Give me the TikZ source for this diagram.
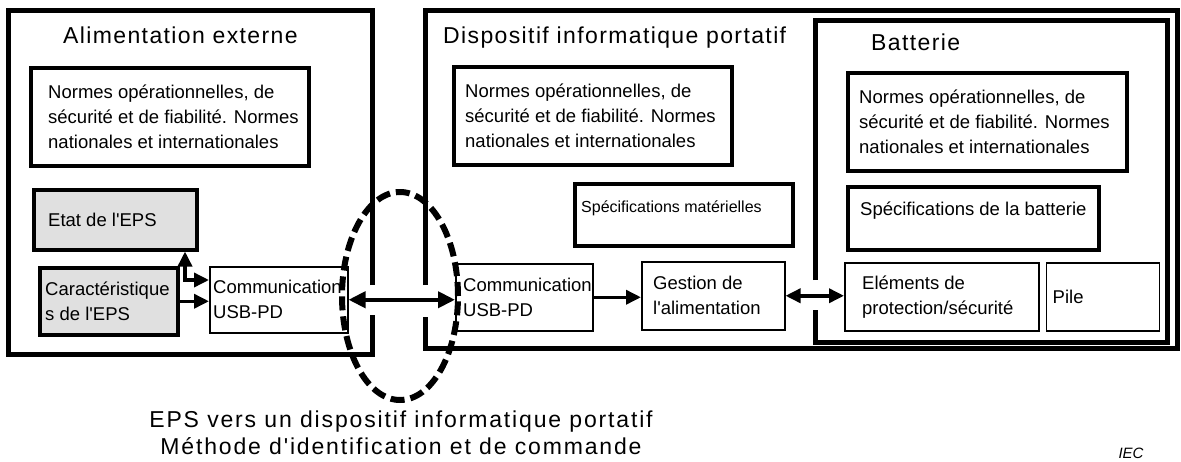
\documentclass[tikz,border=0pt]{standalone}
\usepackage{fontspec}
\setmainfont{Liberation Sans}[Ligatures=TeXOff]
\newfontfamily\widefont{Liberation Sans}[Ligatures=TeXOff, LetterSpace=6]
\newfontfamily\capfont{Liberation Sans}[Ligatures=TeXOff, LetterSpace=8]
\usepackage{xcolor}
\usetikzlibrary{positioning, arrows.meta}

\definecolor{epsgray}{RGB}{224,224,224}
\newcommand{\boxfont}{\fontsize{18.5}{25}\selectfont}
\newcommand{\smallboxfont}{\fontsize{16}{20}\selectfont}
\newcommand{\titlefont}{\widefont\fontsize{23}{27}\selectfont}
\hyphenpenalty=10000

\begin{document}
\begin{tikzpicture}[x=1pt, y=-1pt, node distance=6pt,
    frame/.style={line width=5pt},
    heavybox/.style={draw, line width=3.5pt, anchor=north west},
    lightbox/.style={draw, line width=1.5pt, anchor=north west},
    shaded/.style={fill=epsgray},
    boxtext/.style={inner sep=0pt, align=left, font=\boxfont},
    title/.style={inner sep=0pt, anchor=base west, font=\titlefont},
    link/.style={line width=3.5pt},
    biglink/.style={line width=4pt, >={Triangle[length=17pt, width=16pt]}},
    >={Triangle[length=15pt, width=14pt]}]

    \useasboundingbox (0,0) rectangle (1181,461);

    % Outer frames, open where the links pass
    \draw[frame] (372,285) -- (372,10) -- (8,10) -- (8,354) -- (372,354) -- (372,315);
    \draw[frame] (425,285) -- (425,10) -- (1177,10) -- (1177,348) -- (425,348) -- (425,317);
    \draw[frame] (815,280) -- (815,20) -- (1167,20) -- (1167,342) -- (815,342) -- (815,310);

    % Titles
    \node[title] (ext) at (63,43) {Alimentation externe};
    \node[title] (dev) at (443,43) {Dispositif informatique portatif};
    \node[title] (bat) at (871,50) {Batterie};

    % External supply
    \node[heavybox, minimum width=278pt, minimum height=98pt] (lnorm) at (29,66) {};
    \node[boxtext, right=19pt of lnorm.west] (lnormtxt) {Normes opérationnelles, de\\sécurité et de fiabilité. Normes\\nationales et internationales};
    \node[heavybox, shaded, minimum width=163pt, minimum height=60pt] (etat) at (32,188) {};
    \node[boxtext, right=16pt of etat.west] (etattxt) {Etat de l'EPS};
    \node[heavybox, shaded, minimum width=138pt, minimum height=67pt] (carac) at (38,266) {};
    \node[boxtext, right=7pt of carac.west] (caractxt) {Caractéristique\\s de l'EPS};
    \node[lightbox, minimum width=138pt, minimum height=66pt] (lcomm) at (209,266) {};
    \node[boxtext, right=4pt of lcomm.west] (lcommtxt) {Communication\\USB-PD};
    \coordinate (elbow) at (185,280);

    % Portable device
    \node[heavybox, minimum width=278pt, minimum height=98pt] (mnorm) at (452,65) {};
    \node[boxtext, right=13pt of mnorm.west] (mnormtxt) {Normes opérationnelles, de\\sécurité et de fiabilité. Normes\\nationales et internationales};
    \node[heavybox, minimum width=218pt, minimum height=62pt] (spec) at (573,182) {};
    \node[boxtext, font=\smallboxfont, right=8pt of spec.west, yshift=6pt] (spectxt) {Spécifications matérielles};
    \node[lightbox, minimum width=137pt, minimum height=67pt] (rcomm) at (455,263) {};
    \node[boxtext, right=8pt of rcomm.west] (rcommtxt) {Communication\\USB-PD};
    \node[lightbox, minimum width=143pt, minimum height=68pt] (gest) at (641,261) {};
    \node[boxtext, right=12pt of gest.west] (gesttxt) {Gestion de\\l'alimentation};

    % Battery
    \node[heavybox, minimum width=279pt, minimum height=98pt] (bnorm) at (846,71) {};
    \node[boxtext, right=13pt of bnorm.west] (bnormtxt) {Normes opérationnelles, de\\sécurité et de fiabilité. Normes\\nationales et internationales};
    \node[heavybox, minimum width=251pt, minimum height=63pt] (bspec) at (846,185) {};
    \node[boxtext, right=14pt of bspec.west, yshift=8pt] (bspectxt) {Spécifications de la batterie};
    \node[lightbox, minimum width=194pt, minimum height=68pt] (elem) at (844,262) {};
    \node[boxtext, right=18pt of elem.west] (elemtxt) {Eléments de\\protection/sécurité};
    \node[lightbox, anchor=west, minimum width=113pt, minimum height=68pt, right=of elem] (pile) {};
    \node[boxtext, right=7pt of pile.west] (piletxt) {Pile};

    % Interface ring
    \draw[line width=6pt, dash pattern=on 14pt off 6pt] (400,296) ellipse [x radius=58pt, y radius=104pt];

    % Links
    \draw[link, <->] (etat.south -| elbow) |- (lcomm.west |- elbow);
    \draw[link, ->] (carac.east) -- (carac.east -| lcomm.west);
    \draw[biglink, <->] (lcomm.east) -- (lcomm.east -| rcomm.west);
    \draw[link, ->] (rcomm.east) -- (rcomm.east -| gest.west);
    \draw[link, <->] (gest.east) -- (gest.east -| elem.west);

    % Caption
    \node[inner sep=0pt, align=center, font=\capfont\fontsize{23}{27}\selectfont] (cap) at (401,433) {EPS vers un dispositif informatique portatif\\Méthode d'identification et de commande};
    \node[inner sep=0pt, font=\fontsize{15}{18}\selectfont\itshape] (iec) at (1131,453) {IEC};
\end{tikzpicture}
\end{document}
